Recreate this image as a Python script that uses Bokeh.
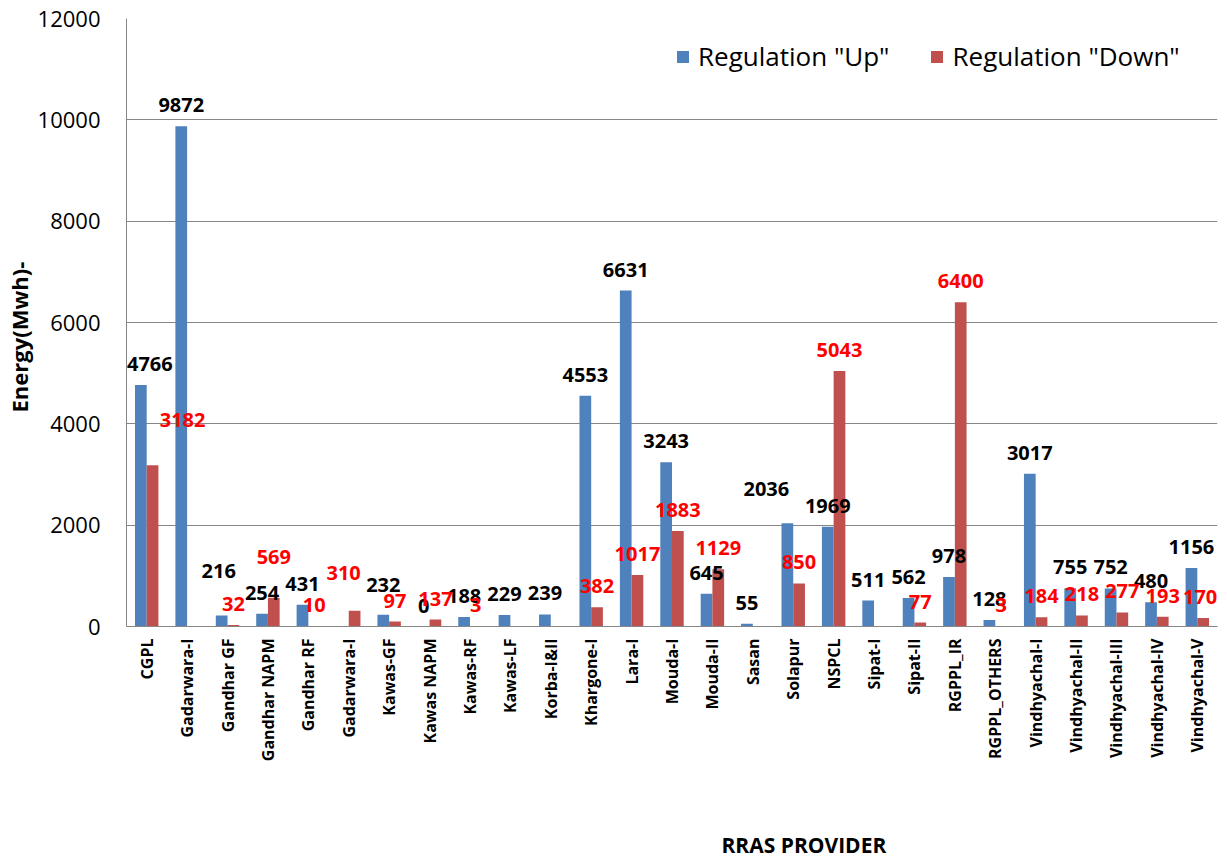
import math
from bokeh.plotting import figure
from bokeh.models import (ColumnDataSource, Range1d, FixedTicker, Legend, LegendItem, Title,
                          LinearAxis)
from bokeh.core.properties import value
from bokeh.embed import file_html
from bokeh.resources import INLINE

# ---- data ----
providers = ["CGPL", "Gadarwara-I", "Gandhar GF", "Gandhar NAPM", "Gandhar RF", "Gadarwara-I",
             "Kawas-GF", "Kawas NAPM", "Kawas-RF", "Kawas-LF", "Korba-I&II", "Khargone-I",
             "Lara-I", "Mouda-I", "Mouda-II", "Sasan", "Solapur", "NSPCL", "Sipat-I", "Sipat-II",
             "RGPPL_IR", "RGPPL_OTHERS", "Vindhyachal-I", "Vindhyachal-II", "Vindhyachal-III",
             "Vindhyachal-IV", "Vindhyachal-V"]
reg_up = [4766, 9872, 216, 254, 431, None, 232, 0, 188, 229, 239, 4553, 6631, 3243, 645, 55,
          2036, 1969, 511, 562, 978, 128, 3017, 755, 752, 480, 1156]
reg_down = [3182, None, 32, 569, 10, 310, 97, 137, 3, None, None, 382, 1017, 1883, 1129, None,
            850, 5043, None, 77, 6400, 3, 184, 218, 277, 193, 170]
y_ticks = [0, 2000, 4000, 6000, 8000, 10000, 12000]

# label nudges (pixels) to mimic the hand-placed labels of the original
up_nudge = {0: (9, 0), 2: (-3, -24), 6: (0, -9), 16: (-21, -13)}
down_nudge = {0: (30, -24), 3: (0, -20), 5: (-11, -17), 26: (-3, 0)}

BLUE = "#4F81BD"
RED = "#C0504D"
GRID = "#868686"
FONT = "Open Sans"
BAR_W = 0.29
OFF = BAR_W / 2

n = len(providers)
xs = list(range(n))


def build(vals, shift, nudge):
    bx, bt, lx, ly, lt, dx, dy = [], [], [], [], [], [], []
    for i, v in enumerate(vals):
        if v is None:
            continue
        bx.append(i + shift)
        bt.append(v)
        lx.append(i + shift)
        ly.append(v)
        lt.append(str(v))
        ndx, ndy = nudge.get(i, (0, 0))
        dx.append(ndx)
        dy.append(-21 + ndy)
    bars = ColumnDataSource(dict(x=bx, top=bt))
    labels = ColumnDataSource(dict(x=lx, y=ly, text=lt, dx=dx, dy=dy))
    return bars, labels


up_bars, up_labels = build(reg_up, -OFF, up_nudge)
dn_bars, dn_labels = build(reg_down, OFF, down_nudge)

p = figure(width=1227, height=863, output_backend="svg", toolbar_location=None,
           x_range=Range1d(-0.5, n - 0.5), y_range=Range1d(0, 12000),
           min_border_left=126, min_border_right=10, min_border_top=18, min_border_bottom=237)
p.outline_line_color = None
p.background_fill_color = "white"

r_up = p.vbar(x="x", top="top", width=BAR_W, source=up_bars, fill_color=BLUE, line_color=None)
r_dn = p.vbar(x="x", top="top", width=BAR_W, source=dn_bars, fill_color=RED, line_color=None)

p.text(x="x", y="y", text="text", source=up_labels, x_offset="dx", y_offset="dy",
       text_align="center", text_baseline="middle", text_color="black",
       text_font=value(FONT), text_font_style="bold", text_font_size="20px")
p.text(x="x", y="y", text="text", source=dn_labels, x_offset="dx", y_offset="dy",
       text_align="center", text_baseline="middle", text_color="#FF0000",
       text_font=value(FONT), text_font_style="bold", text_font_size="20px")

# axes
p.xgrid.grid_line_color = None
p.ygrid.grid_line_color = GRID
p.ygrid.grid_line_width = 1
p.yaxis.ticker = FixedTicker(ticks=y_ticks)
p.xaxis.ticker = FixedTicker(ticks=xs)
p.xaxis.major_label_overrides = {i: name for i, name in enumerate(providers)}
p.xaxis.major_label_orientation = math.pi / 2
for ax in (p.xaxis, p.yaxis):
    ax.axis_line_color = GRID
    ax.major_tick_line_color = None
    ax.minor_tick_line_color = None
    ax.major_tick_out = 0
    ax.major_tick_in = 0
p.yaxis.major_label_text_font = FONT
p.yaxis.major_label_text_font_size = "22px"
p.yaxis.major_label_text_color = "black"
p.yaxis.major_label_standoff = 26
p.xaxis.major_label_text_font = FONT
p.xaxis.major_label_text_font_size = "16px"
p.xaxis.major_label_text_font_style = "bold"
p.xaxis.major_label_text_color = "black"
p.xaxis.major_label_standoff = 12

# empty spacer axis pushes the x-axis title down to where the original has it
spacer = LinearAxis(ticker=FixedTicker(ticks=[]), axis_label=" ", axis_label_standoff=60,
                    axis_line_color=None, major_tick_line_color=None,
                    minor_tick_line_color=None, major_label_text_font_size="0px",
                    major_tick_out=0, major_tick_in=0)
spacer.axis_label_text_font_size = "1px"
p.add_layout(spacer, "below")
p.add_layout(Title(text="RRAS PROVIDER", align="left", offset=595, standoff=0,
                   text_font=FONT, text_font_style="bold", text_font_size="21px",
                   text_color="black"), "below")

p.add_layout(Title(text="Energy(Mwh)-", align="left", offset=214, standoff=2,
                   text_font=FONT, text_font_style="bold", text_font_size="22px",
                   text_color="black"), "left")

legend = Legend(items=[LegendItem(label='Regulation "Up"', renderers=[r_up]),
                       LegendItem(label='Regulation "Down"', renderers=[r_dn])],
                orientation="horizontal", location=(549, 552))
legend.border_line_color = None
legend.background_fill_alpha = 0
legend.padding = 0
legend.margin = 0
legend.spacing = 40
legend.glyph_width = 15
legend.glyph_height = 15
legend.label_height = 30
legend.label_standoff = 8
legend.label_text_font = FONT
legend.label_text_font_size = "26px"
legend.label_text_color = "black"
p.add_layout(legend, "center")

open("out.html", "w").write(file_html(p, INLINE))
